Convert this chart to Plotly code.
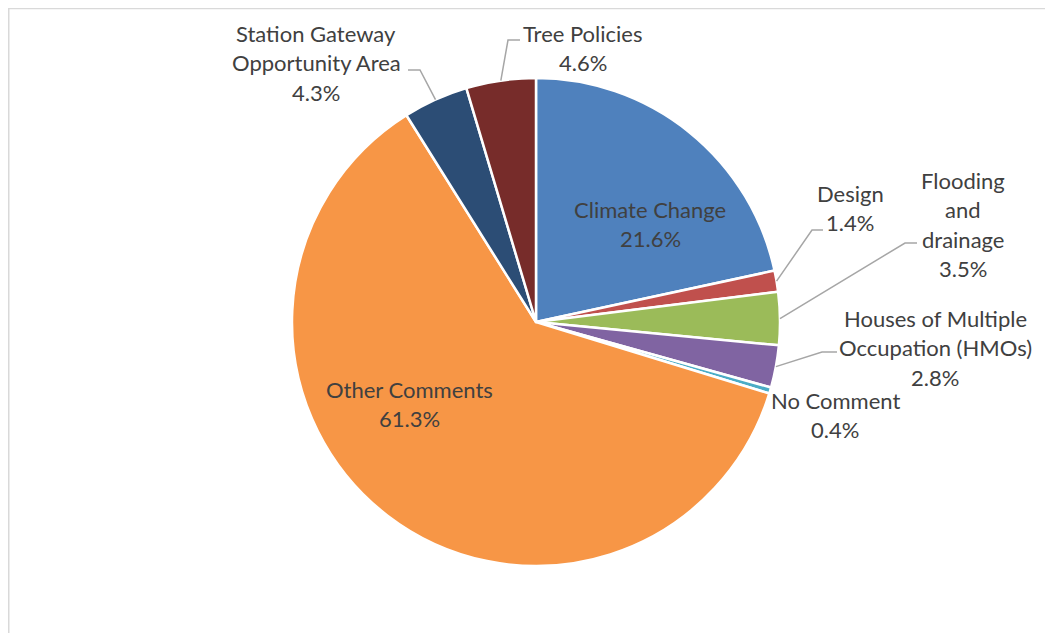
import math
import plotly.graph_objects as go

# ---- data ----
labels = ["Climate Change", "Design", "Flooding and drainage",
          "Houses of Multiple Occupation (HMOs)", "No Comment",
          "Other Comments", "Station Gateway Opportunity Area", "Tree Policies"]
values = [21.6, 1.4, 3.5, 2.8, 0.4, 61.3, 4.3, 4.6]
label_lines = [["Climate Change"], ["Design"], ["Flooding", "and", "drainage"],
               ["Houses of Multiple", "Occupation (HMOs)"], ["No Comment"],
               ["Other Comments"], ["Station Gateway", "Opportunity Area"],
               ["Tree Policies"]]
colors = ["#4F81BD", "#C0504D", "#9BBB59", "#8064A2", "#4BACC6",
          "#F79646", "#2C4D75", "#772C2A"]

# ---- layout (page pixels) ----
W, H = 1053, 633
OFF = 8  # page body margin
CX, CY, R = 536, 322, 244
FONT = "Lato"
FS = 22
LINE = 29.5
TXT = "#404040"
LEADER = "#A6A6A6"

# label block: (center x, y of first line center)
label_pos = [(650, 209), (850, 193), (963, 180), (935, 318), (835, 400),
             (409, 389), (316, 33), (583, 33)]
# leader elbow: (label-side x, elbow x, y) or None
leaders = [None, (823, 812, 230), (917, 905, 243), (837, 822, 352), None,
           None, (408, 420, 70), (520, 508, 40)]


def px(x):
    return (x - OFF) / W


def py(y):
    return 1 - (y - OFF) / H


fig = go.Figure(go.Pie(
    labels=labels, values=values, sort=False, direction="clockwise",
    rotation=0, marker=dict(colors=colors, line=dict(color="white", width=2.5)),
    textinfo="none", hoverinfo="label+percent", showlegend=False,
    domain=dict(x=[px(CX - R), px(CX + R)], y=[py(CY + R), py(CY - R)]),
))

total = sum(values)
annotations = []
shapes = []
cum = 0.0
for i, v in enumerate(values):
    mid = (cum + v / 2) / total * 2 * math.pi
    cum += v
    pct = f"{v:.1f}%"
    lines = label_lines[i] + [pct]
    lx, ly = label_pos[i]
    for k, t in enumerate(lines):
        annotations.append(dict(
            x=px(lx), y=py(ly + k * LINE), xref="paper", yref="paper",
            text=t, showarrow=False, xanchor="center", yanchor="middle",
            font=dict(family=FONT, size=FS, color=TXT)))
    if leaders[i] is not None:
        sx, ex, ey = leaders[i]
        ax = CX + R * math.sin(mid)
        ay = CY - R * math.cos(mid)
        path = f"M {px(sx)},{py(ey)} L {px(ex)},{py(ey)} L {px(ax)},{py(ay)}"
        shapes.append(dict(type="path", xref="paper", yref="paper", path=path,
                           line=dict(color=LEADER, width=1.5)))

# outer chart border
shapes.append(dict(type="rect", xref="paper", yref="paper",
                   x0=px(8.75), x1=px(1052), y0=py(700), y1=py(8.5),
                   line=dict(color="#D9D9D9", width=1.5)))

fig.update_layout(
    width=W, height=H, margin=dict(l=0, r=0, t=0, b=0),
    paper_bgcolor="white", plot_bgcolor="white",
    annotations=annotations, shapes=shapes,
    font=dict(family=FONT, color=TXT),
)

fig.write_html("out.html")
